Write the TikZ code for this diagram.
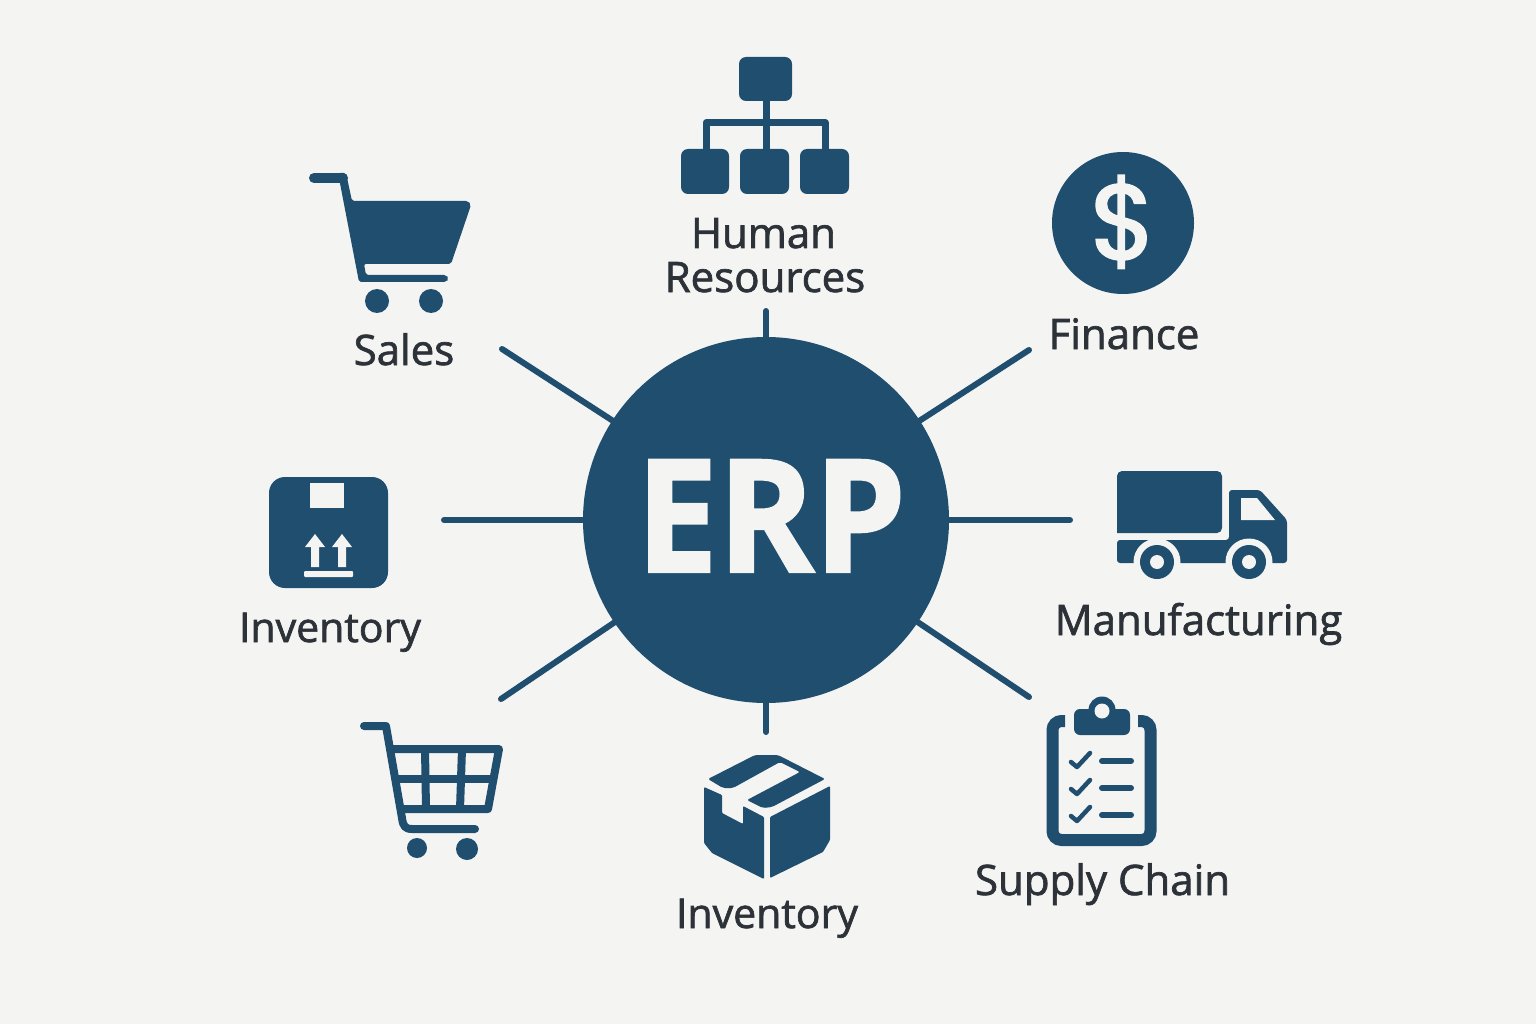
\documentclass[tikz,border=0pt]{standalone}
\usepackage{fontspec}
\usepackage{graphicx}
\setmainfont{Open Sans}
\newfontfamily\labfont[FakeBold=1.6]{Open Sans}
\newfontfamily\erpfont[BoldFeatures={FakeBold=1.5}]{Open Sans}
\newfontfamily\dolfont[FakeBold=2]{Poppins}
\definecolor{inkc}{HTML}{1F4E6E}
\definecolor{paper}{HTML}{F4F4F3}
\definecolor{txtc}{HTML}{2C3238}
\tikzset{
  icon/.style={fill=inkc,draw=none},
  blank/.style={fill=paper,draw=none},
  spoke/.style={draw=inkc,line width=6pt,line cap=round},
  wire/.style={draw=inkc,line width=7pt},
  lab/.style={anchor=base,inner sep=0pt,text=txtc,font=\labfont\fontsize{42}{44}\selectfont},
  labsmall/.style={lab,font=\labfont\fontsize{41}{44}\selectfont},
  hubnode/.style={circle,fill=inkc,draw=none,minimum size=366pt,inner sep=0pt}
}
\begin{document}
\begin{tikzpicture}[x=1pt,y=-1pt]
\useasboundingbox (0,0) rectangle (1536,1024);
\fill[paper] (0,0) rectangle (1536,1024);

% connectors
\node[hubnode] (hub) at (766,520) {};
\coordinate (eT) at (766,311);
\coordinate (eUR) at (1029,350);
\coordinate (eR) at (1070,520);
\coordinate (eLR) at (1029,697);
\coordinate (eB) at (766,732);
\coordinate (eLL) at (501,699);
\coordinate (eL) at (444,520);
\coordinate (eUL) at (502,349);
\foreach \e in {eT,eUR,eR,eLR,eB,eLL,eL,eUL}{\draw[spoke] (hub) -- (\e);}
\node[anchor=base,inner sep=0pt,text=paper,font=\erpfont\bfseries\fontsize{157}{160}\selectfont] (erp) at (771,572) {\scalebox{0.93}[1]{ERP}};

% Human resources icon
\fill[icon,rounded corners=7pt] (739,57) rectangle (792,101);
\draw[wire] (766,101) -- (766,150);
\draw[wire,line join=round] (706,150) -- (706,122.5) -- (825,122.5) -- (825,150);
\fill[icon,rounded corners=7pt] (681,149) rectangle (729,194);
\fill[icon,rounded corners=7pt] (740,149) rectangle (789,194);
\fill[icon,rounded corners=7pt] (800,149) rectangle (849,194);
\node[lab] (hr1) at (763.5,248) {Human};
\node[lab] (hr2) at (765,292) {Resources};

% Sales cart
\draw[inkc,line width=10pt,line cap=round] (314,178) -- (343,178);
\fill[icon,rounded corners=2pt] (338,173) -- (346,173) -- (352,201) -- (468,201) -- (471,205) -- (451,264) -- (364,264) -- (366,275) -- (446,275) -- (449,278.5) -- (446,282) -- (359,282) -- cycle;
\fill[icon] (377,301) circle (12);
\fill[icon] (431,301) circle (12);
\node[lab] (sales) at (404,365) {Sales};

% Finance coin
\fill[icon] (1123,223) circle (71);
\node[anchor=base,inner sep=0pt,text=paper,font=\dolfont\fontsize{106}{106}\selectfont] (dollar) at (1123,259) {\$};
\node[lab] (fin) at (1124,349) {Finance};

% Inventory box
\fill[icon,rounded corners=16pt] (269,477) rectangle (388,588);
\fill[blank] (310,483) rectangle (344,508);
\fill[blank] (315,534) -- (325,547) -- (319,547) -- (319,567) -- (311,567) -- (311,547) -- (305,547) -- cycle;
\fill[blank] (342,534) -- (352,547) -- (346,547) -- (346,567) -- (338,567) -- (338,547) -- (332,547) -- cycle;
\fill[blank,rounded corners=1pt] (304,571) rectangle (353,577);
\node[labsmall] (inv1) at (330,642) {Inventory};

% Truck
\fill[icon,rounded corners=5pt] (1117,533) -- (1117,471) -- (1222,471) -- (1222,533) [sharp corners] -- cycle;
\fill[icon,rounded corners=3pt] (1117,540) -- (1229,540) -- (1229,490) -- (1260,490) -- (1287,520) -- (1287,563) -- (1117,563) -- cycle;
\fill[blank] (1241,498) -- (1257,498) -- (1275,520) -- (1241,520) -- cycle;
\fill[blank] (1157,562) circle (23.5);
\fill[blank] (1249,562) circle (23.5);
\fill[icon] (1157,562) circle (17);
\fill[icon] (1249,562) circle (17);
\fill[blank] (1157,562) circle (7);
\fill[blank] (1249,562) circle (7);
\node[lab] (man) at (1198.5,635) {Manufacturing};

% Wire cart
\draw[inkc,line width=8pt,line cap=round,line join=round] (364,726) -- (386,726) -- (402,818) .. controls (403,826) and (405,829) .. (412,829) -- (475,829);
\draw[inkc,line width=8pt,line join=round] (391,749) -- (499,749) -- (488,809) -- (400,809);
\draw[inkc,line width=8pt] (396,779) -- (494,779);
\draw[inkc,line width=8pt] (425,749) -- (426,809);
\draw[inkc,line width=8pt] (462,749) -- (460,809);
\fill[icon] (417,848) circle (10);
\fill[icon] (467,849) circle (11);

% Parcel
\fill[icon,rounded corners=2pt] (708,779) -- (755,755) -- (778,755) -- (825,779) -- (772,807) -- (763,808) -- (747,800) -- (800,772) -- (780,762) -- (733,788) -- (723,788) -- cycle;
\fill[icon,rounded corners=1pt] (704,787) -- (722,795) -- (722,813) -- (743,824) -- (743,806) -- (764,817) -- (764,879) -- (712,853) -- (704,843) -- cycle;
\fill[icon,rounded corners=1pt] (770,817) -- (830,786) -- (830,840) -- (823,852) -- (770,878) -- cycle;
\node[labsmall] (inv2) at (767,928) {Inventory};

% Clipboard
\draw[inkc,line width=12pt,rounded corners=9pt] (1065,721) -- (1052.5,721) -- (1052.5,840) -- (1150.5,840) -- (1150.5,721) -- (1138,721);
\fill[icon,rounded corners=6pt] (1074,709) rectangle (1130,735);
\fill[icon] (1102,710) circle (13.5);
\fill[blank] (1102,711) circle (7.5);
\foreach \dy in {0,27,54}{
  \draw[inkc,line width=4.5pt,line cap=round,line join=round] (1071,{762+\dy}) -- (1077,{767+\dy}) -- (1090,{753+\dy});
  \draw[inkc,line width=6pt,line cap=round] (1102,{761+\dy}) -- (1131,{761+\dy});
}
\node[lab] (sc) at (1102.5,895) {Supply Chain};
\end{tikzpicture}
\end{document}
